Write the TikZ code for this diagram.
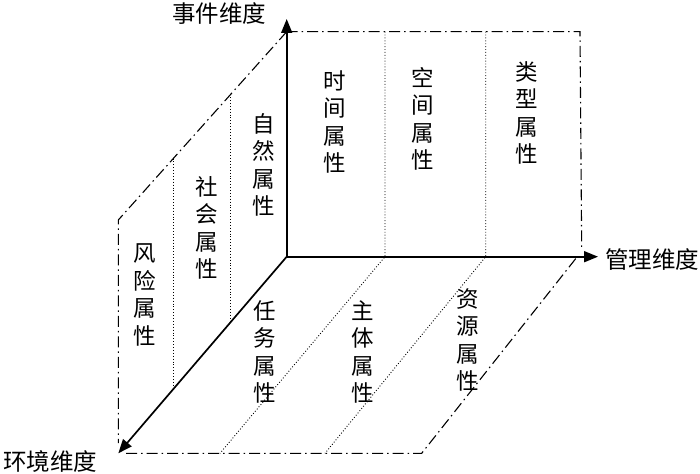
\documentclass[tikz,border=0pt]{standalone}
\usepackage{fontspec}
\newfontfamily\cjk{Noto Sans CJK SC}
\usetikzlibrary{arrows.meta}
\begin{document}
\begin{tikzpicture}[x=1pt,y=-1pt,
  axis/.style={line width=1.7pt,-{Triangle[length=14pt,width=11pt]}},
  frame/.style={line width=1.1pt,dash pattern=on 11pt off 4pt on 1.5pt off 4pt},
  divider/.style={line width=0.9pt,dotted},
  vlabel/.style={font=\cjk\fontsize{22.5}{27.5}\selectfont,align=center,inner sep=0pt},
  hlabel/.style={font=\cjk\fontsize{23.5}{26}\selectfont,inner sep=0pt}]
\useasboundingbox (0,0) rectangle (700,473);
% key points
\coordinate (O) at (286.7,256.7);
\coordinate (Ztip) at (286.7,19);
\coordinate (Xtip) at (598,256.7);
\coordinate (Ytip) at (118.3,453.3);
\coordinate (BT) at (286.7,31.7);
\coordinate (BTR) at (580,31.7);
\coordinate (BBR) at (581.7,250);
\coordinate (LT) at (118.3,220);
\coordinate (LB) at (118.3,443);
\coordinate (FB1) at (126,453.3);
\coordinate (FB2) at (421.7,453.3);
\coordinate (FR) at (577,257);
% back wall dividers
\coordinate (D1t) at (385,31.7);
\coordinate (D1b) at (385,256.7);
\coordinate (D2t) at (485.7,31.7);
\coordinate (D2b) at (485.7,256.7);
% floor dividers
\coordinate (F1) at (220,453.3);
\coordinate (F2) at (325,453.3);
% left wall dividers
\coordinate (L1t) at (173.3,158.5);
\coordinate (L1b) at (173.3,388);
\coordinate (L2t) at (230.7,94.3);
\coordinate (L2b) at (230.7,321);
% frames
\draw[frame] (BT) -- (BTR) -- (BBR);
\draw[frame] (BT) -- (LT) -- (LB);
\draw[frame] (FB1) -- (FB2) -- (FR);
% dividers
\draw[divider] (D1t) -- (D1b) -- (F1);
\draw[divider] (D2t) -- (D2b) -- (F2);
\draw[divider] (L1t) -- (L1b);
\draw[divider] (L2t) -- (L2b);
% axes
\draw[axis] (O) -- (Ztip);
\draw[axis] (O) -- (Xtip);
\draw[axis] (O) -- (Ytip);
% axis labels
\node[hlabel] (lz) at (219,14) {事件维度};
\node[hlabel] (lx) at (652,260) {管理维度};
\node[hlabel] (ly) at (50,462) {环境维度};
% back wall labels
\node[vlabel] (t1) at (335,122) {时\\间\\属\\性};
\node[vlabel] (t2) at (423,119) {空\\间\\属\\性};
\node[vlabel] (t3) at (527,113) {类\\型\\属\\性};
% left wall labels
\node[vlabel] (t4) at (263.3,165) {自\\然\\属\\性};
\node[vlabel] (t5) at (207,228) {社\\会\\属\\性};
\node[vlabel] (t6) at (145,295) {风\\险\\属\\性};
% floor labels
\node[vlabel] (t7) at (265,352) {任\\务\\属\\性};
\node[vlabel] (t8) at (363,352) {主\\体\\属\\性};
\node[vlabel] (t9) at (468,340) {资\\源\\属\\性};
\end{tikzpicture}
\end{document}
